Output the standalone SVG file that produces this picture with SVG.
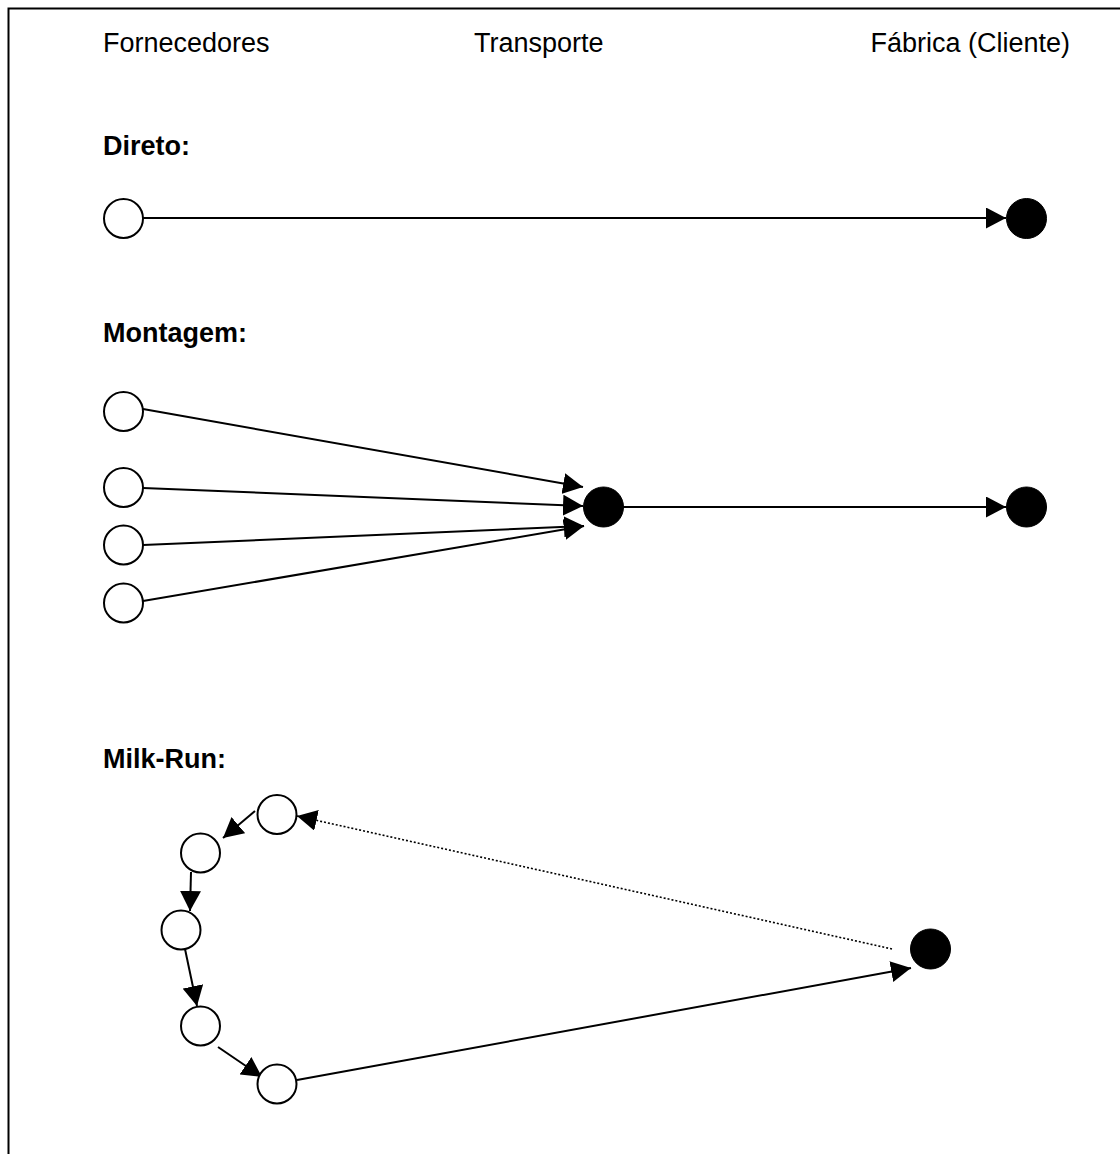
<svg xmlns="http://www.w3.org/2000/svg" width="1120" height="1154" viewBox="0 0 1120 1154">
  <style>
    .lbl { font-family: "Liberation Sans", Arial, sans-serif; font-size: 27px; fill: #000; }
    .ttl { font-family: "Liberation Sans", Arial, sans-serif; font-size: 27px; font-weight: bold; fill: #000; }
    .open { fill: #fff; stroke: #000; stroke-width: 2; }
    .full { fill: #000; stroke: #000; stroke-width: 1; }
    .edge { fill: none; stroke: #000; stroke-width: 2; marker-end: url(#arrow); }
    .dot { fill: none; stroke: #000; stroke-width: 1.6; stroke-dasharray: 2 2; marker-end: url(#arrow); }
  </style>
  <defs>
    <marker id="arrow" markerUnits="userSpaceOnUse" viewBox="0 0 20 21" markerWidth="20" markerHeight="21" refX="20" refY="10.5" orient="auto">
      <path d="M0,0 L20,10.5 L0,21 z" fill="#000"/>
    </marker>
  </defs>

  <!-- page frame (right and bottom edges run off the sheet) -->
  <rect x="8.5" y="8.5" width="1130" height="1170" fill="#fff" stroke="#000" stroke-width="2"/>

  <!-- column headings -->
  <text class="lbl" x="103" y="52">Fornecedores</text>
  <text class="lbl" x="474" y="52">Transporte</text>
  <text class="lbl" x="1070" y="52" text-anchor="end">Fábrica (Cliente)</text>

  <!-- section titles -->
  <text class="ttl" x="103" y="155">Direto:</text>
  <text class="ttl" x="103" y="342">Montagem:</text>
  <text class="ttl" x="103" y="768">Milk-Run:</text>

  <g id="connectors">
    <!-- direct -->
    <line class="edge" x1="143" y1="218" x2="1006" y2="218"/>
    <!-- assembly -->
    <line class="edge" x1="143" y1="409" x2="583" y2="487"/>
    <line class="edge" x1="143" y1="488" x2="583" y2="506"/>
    <line class="edge" x1="143" y1="545" x2="584" y2="526"/>
    <line class="edge" x1="143" y1="601" x2="584" y2="526"/>
    <line class="edge" x1="623" y1="507" x2="1006" y2="507"/>
    <!-- milk run -->
    <line class="edge" x1="255" y1="811" x2="223" y2="838"/>
    <line class="edge" x1="191" y1="872" x2="190" y2="911"/>
    <line class="edge" x1="185" y1="949" x2="197" y2="1006"/>
    <line class="edge" x1="218" y1="1047" x2="262" y2="1077"/>
    <line class="edge" x1="297" y1="1080" x2="911" y2="968"/>
    <line class="dot" x1="892" y1="949" x2="297" y2="816"/>
  </g>

  <!-- direct -->
  <g id="d-supplier"><circle class="open" cx="123.5" cy="218.5" r="19.5"/></g>
  <g id="d-factory"><circle class="full" cx="1026.5" cy="218.5" r="20"/></g>

  <!-- assembly -->
  <g id="m-supplier-1"><circle class="open" cx="123.5" cy="411.5" r="19.5"/></g>
  <g id="m-supplier-2"><circle class="open" cx="123.5" cy="487.5" r="19.5"/></g>
  <g id="m-supplier-3"><circle class="open" cx="123.5" cy="545" r="19.5"/></g>
  <g id="m-supplier-4"><circle class="open" cx="123.5" cy="603" r="19.5"/></g>
  <g id="m-hub"><circle class="full" cx="603.5" cy="507" r="20"/></g>
  <g id="m-factory"><circle class="full" cx="1026.5" cy="507" r="20"/></g>

  <!-- milk run -->
  <g id="r-supplier-1"><circle class="open" cx="277" cy="814.5" r="19.5"/></g>
  <g id="r-supplier-2"><circle class="open" cx="200.5" cy="853" r="19.5"/></g>
  <g id="r-supplier-3"><circle class="open" cx="181" cy="930" r="19.5"/></g>
  <g id="r-supplier-4"><circle class="open" cx="200.5" cy="1026" r="19.5"/></g>
  <g id="r-supplier-5"><circle class="open" cx="277" cy="1084" r="19.5"/></g>
  <g id="r-factory"><circle class="full" cx="930.5" cy="949" r="20"/></g>
</svg>
